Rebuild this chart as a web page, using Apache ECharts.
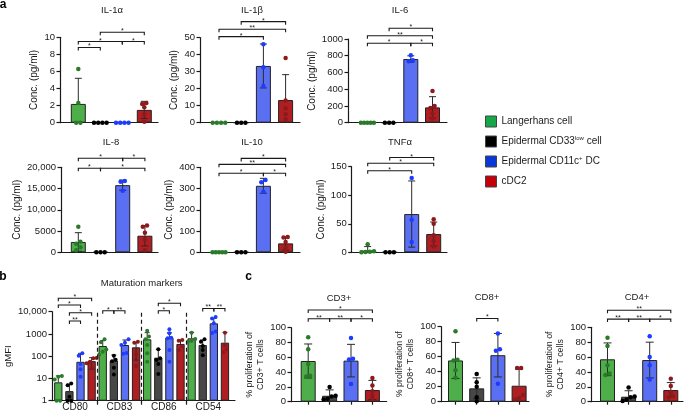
<!DOCTYPE html>
<html><head><meta charset="utf-8">
<script src="https://cdn.jsdelivr.net/npm/echarts@6/dist/echarts.min.js"></script>
<style>html,body{margin:0;padding:0;background:#fff}#c{width:685px;height:416px}</style>
</head><body><div id="c"></div>
<script>
// ---------------- DATA ----------------
const cellTypes = ['Langerhans cell', 'Epidermal CD33low cell', 'Epidermal CD11c+ DC', 'cDC2'];

// Panel a: cytokines (pg/ml)
const il1aMeans = [2.2, 0, 0, 1.5];
const il1aSD = [3.0, 0, 0, 1.0];
const il1aDots = [[6.3, 2.3, 0, 0], [0, 0, 0, 0], [0, 0, 0, 0], [2.3, 2.2, 1.8, 1.0, 0.1]];
const il1aTicks = [0, 2, 4, 6, 8, 10];
const il1aSig = [[0, 1, '*'], [0, 2, '*'], [2, 3, '*'], [1, 3, '*']];
const il1aSigY = [8.8, 9.5, 9.5, 10.6];

const il1bMeans = [0, 0, 33.3, 13.3];
const il1bSD = [0, 0, 12.9, 14.9];
const il1bDots = [[0, 0, 0, 0], [0, 0, 0], [46, 32.6, 21.5], [38, 13, 8.5, 5, 2]];
const il1bTicks = [0, 10, 20, 30, 40, 50];
const il1bSig = [[0, 2, '*'], [0, 3, '**'], [1, 3, '*']];
const il1bSigY = [50.5, 54.8, 59.3];

const il6Means = [0, 0, 761, 183];
const il6SD = [0, 0, 38, 128];
const il6Dots = [[0, 0, 0, 0, 0], [0, 0, 0], [805, 745, 735], [380, 200, 175, 110, 50]];
const il6Ticks = [0, 200, 400, 600, 800, 1000];
const il6Sig = [[0, 2, '*'], [2, 3, '*'], [0, 3, '**'], [1, 3, '*']];
const il6SigY = [949, 949, 1039, 1128];

const il8Means = [2430, 0, 15800, 3900];
const il8SD = [2190, 0, 1200, 2400];
const il8Dots = [[6000, 2500, 2000, 1200, 500], [0, 0, 0], [16800, 16600, 14500], [6300, 6000, 4600, 3000, 500]];
const il8Ticks = [0, 5000, 10000, 15000, 20000];
const il8TickLabels = ['0', '5000', '10,000', '15,000', '20,000'];
const il8Sig = [[0, 1, '*'], [1, 3, '*'], [0, 2, '*'], [2, 3, '*']];
const il8SigY = [19765, 19765, 22118, 22118];

const il10Means = [0, 0, 313, 42];
const il10SD = [0, 0, 35, 31];
const il10Dots = [[0, 0, 0, 0, 0], [0, 0, 0], [340, 330, 285], [72, 70, 48, 22, 3]];
const il10Ticks = [0, 100, 200, 300, 400];
const il10Sig = [[0, 2, '*'], [2, 3, '*'], [0, 3, '**'], [1, 3, '*']];
const il10SigY = [372, 372, 414, 442];

const tnfMeans = [3.0, 0, 67, 32];
const tnfSD = [7, 0, 58, 21];
const tnfDots = [[14, 2, 1, 0.5, 0], [0, 0, 0], [130, 57, 18], [58, 50, 30, 20, 10]];
const tnfTicks = [0, 50, 100, 150];
const tnfSig = [[0, 2, '*'], [0, 3, '*'], [1, 3, '*']];
const tnfSigY = [143, 156, 166];

// Panel b: maturation markers (gMFI, log)
const markers = ['CD80', 'CD83', 'CD86', 'CD54'];
const bMeansLC = [6.7, 288, 575, 636];
const bMeansCD33 = [2.7, 63, 86, 318];
const bMeansCD11c = [56, 318, 680, 3000];
const bMeansCDC2 = [60, 251, 355, 405];
const bErrHiLC = [13, 500, 1140, 1180];
const bErrHiCD33 = [5.5, 113, 204, 540];
const bErrHiCD11c = [135, 535, 1140, 5000];
const bErrHiCDC2 = [86, 405, 535, 1180];
const bErrLoCDC2 = [26, 67, null, null];
const bDotsCD80 = [[13, 12, 9, 1, 1], [6, 5, 1.5, 1, 1], [135, 105, 45, 26, 12], [82, 80, 57, 48, 30]];
const bDotsCD83 = [[580, 420, 200, 160, 115], [105, 70, 60, 30, 15], [575, 400, 320, 140, 130], [450, 400, 120, 36]];
const bDotsCD86 = [[1400, 760, 575, 318, 135, 57], [204, 80, 67, 45, 16], [1620, 1070, 680, 636, 190, 57], [535, 500, 270, 190]];
const bDotsCD54 = [[1140, 600, 500, 450], [575, 450, 290, 190, 110], [5800, 5000, 3000, 1300, 1100], [1140, 300, 200, 150]];
const bTicks = [1, 10, 100, 1000, 10000];
const bTickLabels = ['1', '10', '100', '1000', '10,000'];
const bSig = [[0, 3, '*'], [0, 2, '*'], [1, 3, '*'], [1, 2, '**'], [4, 5, '*'], [5, 6, '**'], [9, 11, '*'], [9, 10, '*'], [13, 14, '**'], [14, 15, '**']];
const bSigY = [40000, 20000, 9000, 3800, 11000, 11000, 24000, 11000, 14000, 14000];

// Panel c: T cell proliferation (%)
const cd3Means = [55, 8, 55.5, 15.8];
const cd3SD = [23, 8, 22, 13];
const cd3Dots = [[87, 71, 51, 35, 34], [20, 8, 7, 4, 3], [86, 58, 57, 24], [32, 22, 14, 8, 4]];
const cd3Sig = [[0, 3, '*'], [0, 1, '**'], [1, 2, '**'], [2, 3, '*']];
const cd3SigY = [124, 112, 112, 112];

const cd8Means = [55, 17.8, 62, 21.3];
const cd8SD = [24, 14, 29, 22];
const cd8Dots = [[94, 56, 55, 42, 32], [37, 26, 20, 6, 0.5], [91, 70, 68, 24], [45, 45, 9, 5, 3]];
const cd8Sig = [[1, 2, '*']];
const cd8SigY = [111];

const cd4Means = [57, 6.7, 56, 15.7];
const cd4SD = [22, 8, 24, 10];
const cd4Dots = [[86, 75, 49, 38, 36], [19, 7, 6, 3, 1], [88, 60, 49, 30], [31, 21, 13, 8, 6]];
const cd4Sig = [[0, 3, '**'], [0, 1, '**'], [1, 2, '**'], [2, 3, '*']];
const cd4SigY = [123, 111, 111, 111];
const cTicks = [0, 20, 40, 60, 80, 100];

// ---------------- STYLE / LAYOUT ----------------
const FONT = '"Liberation Sans", Arial, Helvetica, sans-serif';
const INK = '#1a1a1a';
const barColors = ['#4dae4a', '#474747', '#5a6ff2', '#b01e22'];
const dotColors = ['#2a7a2a', '#000000', '#1d3cff', '#8c1a1c'];
const legendColors = ['#14a84b', '#000000', '#0a37d8', '#c4000b'];

const grids = [], xAxes = [], yAxes = [], series = [], graphics = [];

function tickFormatter(ticks, labels) {
  return v => {
    const i = ticks.findIndex(t => Math.abs(t - v) <= 1e-6 * Math.max(1, Math.abs(t)));
    return i < 0 ? '' : (labels ? labels[i] : String(ticks[i]));
  };
}

function spread(vals, x, isLog, yMin, yMax, stepU, capU) {
  const span = isLog ? Math.log10(yMax) - Math.log10(yMin) : yMax - yMin;
  const t = vals.map(v => (isLog ? Math.log10(v) - Math.log10(yMin) : v - yMin) / span);
  const idx = vals.map((v, i) => i).sort((a, b) => t[a] - t[b]);
  const clusters = [];
  let cur = [idx[0]];
  for (let j = 1; j < idx.length; j++) {
    if (t[idx[j]] - t[cur[cur.length - 1]] < 0.04) cur.push(idx[j]);
    else { clusters.push(cur); cur = [idx[j]]; }
  }
  clusters.push(cur);
  const out = [];
  clusters.forEach(c => {
    const n = c.length;
    const s = n > 1 ? Math.min(stepU, capU / (n - 1)) : 0;
    c.forEach((i, k) => out.push([x + (k - (n - 1) / 2) * s, vals[i]]));
  });
  return out;
}

function addChart(o) {
  const g = grids.length;
  const L = o.layout;
  grids.push({ left: L.left, top: L.top, width: L.right - L.left, height: L.bottom - L.top });
  const axisLine = { show: true, onZero: false, lineStyle: { color: INK, width: 1.2 } };
  xAxes.push({
    gridIndex: g, type: 'value', min: (L.left - L.c0) / L.step, max: (L.right - L.c0) / L.step,
    axisLine: axisLine, splitLine: { show: false },
    axisTick: o.xTickValues ? { show: true, customValues: o.xTickValues, length: o.xTickLen || 3, lineStyle: { color: INK, width: 1.2 } } : { show: false },
    axisLabel: o.xLabelValues ? { show: true, customValues: o.xLabelValues, formatter: o.xLabelFmt, fontSize: 10, color: INK, fontFamily: FONT, margin: 2 } : { show: false }
  });
  const yMin = o.ticks[0], yMax = o.ticks[o.ticks.length - 1];
  yAxes.push({
    gridIndex: g, type: o.isLog ? 'log' : 'value', logBase: 10, min: yMin, max: yMax,
    interval: o.isLog ? undefined : o.ticks[1] - o.ticks[0],
    axisLine: axisLine, splitLine: { show: false },
    axisTick: { show: true, length: 3.5, lineStyle: { color: INK, width: 1.2 } },
    axisLabel: { fontSize: 9.5, color: INK, fontFamily: FONT, margin: 5, formatter: tickFormatter(o.ticks, o.tickLabels) },
    name: o.yName, nameLocation: 'middle', nameGap: o.nameGap,
    nameTextStyle: { fontSize: o.nameSize || 10, color: INK, fontFamily: FONT, lineHeight: o.nameLH || 12 }
  });
  const n = o.means.length;
  // bars
  series.push({
    type: 'bar', xAxisIndex: g, yAxisIndex: g, barWidth: o.barWidth, z: 2, silent: true,
    data: o.means.map((m, i) => ({ value: [i, m], itemStyle: { color: barColors[o.colorIdx[i]], borderColor: '#222', borderWidth: 1 } })),
    markLine: o.separators ? {
      symbol: 'none', silent: true, label: { show: false },
      lineStyle: { type: [4, 3], color: INK, width: 1.2 },
      data: o.separators.map(v => ({ xAxis: v }))
    } : undefined
  });
  // error bars
  series.push({
    type: 'custom', xAxisIndex: g, yAxisIndex: g, z: 3, clip: false, silent: true,
    data: o.means.map((m, i) => [i, m]),
    renderItem: (params, api) => {
      const i = params.dataIndex;
      const x = api.value(0), m = api.value(1);
      const hi = o.hi[i], lo = o.lo[i];
      const st = { stroke: '#2b2b2b', lineWidth: 1 };
      const cw = o.capW / 2;
      const ch = [];
      const pm = api.coord([x, m]);
      if (hi != null && !isNaN(hi)) {
        const ph = api.coord([x, hi]);
        ch.push({ type: 'line', shape: { x1: pm[0], y1: pm[1], x2: ph[0], y2: ph[1] }, style: st });
        ch.push({ type: 'line', shape: { x1: ph[0] - cw, y1: ph[1], x2: ph[0] + cw, y2: ph[1] }, style: st });
      }
      if (lo != null && !isNaN(lo)) {
        const pl = api.coord([x, lo]);
        ch.push({ type: 'line', shape: { x1: pm[0], y1: pm[1], x2: pl[0], y2: pl[1] }, style: st });
        ch.push({ type: 'line', shape: { x1: pl[0] - cw, y1: pl[1], x2: pl[0] + cw, y2: pl[1] }, style: st });
      }
      return { type: 'group', children: ch };
    }
  });
  // dots, one scatter series per cell type
  for (let k = 0; k < 4; k++) {
    const pts = [];
    for (let i = 0; i < n; i++) {
      if (o.colorIdx[i] !== k) continue;
      spread(o.dots[i], i, o.isLog, yMin, yMax, o.dotStep, o.dotCap).forEach(p => pts.push(p));
    }
    series.push({
      type: 'scatter', name: cellTypes[k], xAxisIndex: g, yAxisIndex: g, z: 4, silent: true,
      symbolSize: o.dotSize, itemStyle: { color: dotColors[k], opacity: 1 }, data: pts
    });
  }
  // significance brackets
  series.push({
    type: 'custom', xAxisIndex: g, yAxisIndex: g, z: 3, clip: false, silent: true,
    data: o.sig.map((s, j) => [s[0], o.sigY[j]]),
    renderItem: (params, api) => {
      const s = o.sig[params.dataIndex];
      const y = api.value(1);
      const p1 = api.coord([s[0], y]), p2 = api.coord([s[1], y]);
      const t = 3;
      return {
        type: 'group', children: [
          { type: 'polyline', shape: { points: [[p1[0], p1[1] + t], [p1[0], p1[1]], [p2[0], p2[1]], [p2[0], p2[1] + t]] },
            style: { stroke: INK, lineWidth: 1.1, fill: null } },
          { type: 'text', x: (p1[0] + p2[0]) / 2, y: p1[1] + 2.5,
            style: { text: s[2], fill: INK, fontSize: 7, fontFamily: FONT, align: 'center', verticalAlign: 'bottom' } }
        ]
      };
    }
  });
  if (o.title) {
    graphics.push({ type: 'text', x: o.title[1], y: o.title[2],
      style: { text: o.title[0], fill: INK, fontSize: o.titleSize || 9.5, fontFamily: FONT, align: 'center', verticalAlign: 'middle' } });
  }
}

function panelA(title, tpos, layout, ticks, tickLabels, means, sd, dots, sig, sigY, nameGap) {
  const yMin = ticks[0];
  addChart({
    layout, ticks, tickLabels, means, dots, sig, sigY, nameGap,
    colorIdx: [0, 1, 2, 3],
    hi: means.map((m, i) => sd[i] > 0 ? m + sd[i] : null),
    lo: means.map((m, i) => sd[i] > 0 && m - sd[i] > yMin ? m - sd[i] : null),
    yName: 'Conc. (pg/ml)', barWidth: 15, dotSize: 4.5, capW: 7,
    dotStep: 4.2 / layout.step, dotCap: 13 / layout.step,
    title: [title, tpos[0], tpos[1]]
  });
}

panelA('IL-1α', [112, 10], { left: 60, right: 158, top: 37.3, bottom: 122.7, c0: 78.3, step: 22 }, il1aTicks, null, il1aMeans, il1aSD, il1aDots, il1aSig, il1aSigY, 9);
panelA('IL-1β', [252, 10], { left: 200, right: 300, top: 37.5, bottom: 122.7, c0: 219, step: 22.2 }, il1bTicks, null, il1bMeans, il1bSD, il1bDots, il1bSig, il1bSigY, 15);
panelA('IL-6', [400, 10], { left: 348, right: 447, top: 39, bottom: 122.7, c0: 367.4, step: 21.7 }, il6Ticks, null, il6Means, il6SD, il6Dots, il6Sig, il6SigY, 24);
panelA('IL-8', [111, 142.3], { left: 61, right: 158, top: 167.3, bottom: 252.3, c0: 78.3, step: 22.2 }, il8Ticks, il8TickLabels, il8Means, il8SD, il8Dots, il8Sig, il8SigY, 36);
panelA('IL-10', [252, 142.3], { left: 200, right: 300, top: 167.3, bottom: 252.3, c0: 219, step: 22.2 }, il10Ticks, null, il10Means, il10SD, il10Dots, il10Sig, il10SigY, 18);
panelA('TNFα', [400, 142.3], { left: 351.7, right: 447, top: 166.7, bottom: 252.3, c0: 367.7, step: 22 }, tnfTicks, null, tnfMeans, tnfSD, tnfDots, tnfSig, tnfSigY, 21);

// Panel b
(function () {
  const meansBy = [bMeansLC, bMeansCD33, bMeansCD11c, bMeansCDC2];
  const hiBy = [bErrHiLC, bErrHiCD33, bErrHiCD11c, bErrHiCDC2];
  const dotsBy = [bDotsCD80, bDotsCD83, bDotsCD86, bDotsCD54];
  const means = [], hi = [], lo = [], dots = [], colorIdx = [];
  for (let mk = 0; mk < markers.length; mk++) {
    for (let k = 0; k < 4; k++) {
      means.push(meansBy[k][mk]);
      hi.push(hiBy[k][mk]);
      lo.push(k === 3 ? bErrLoCDC2[mk] : null);
      dots.push(dotsBy[mk][k]);
      colorIdx.push(k);
    }
  }
  const layout = { left: 52, right: 235, top: 311.7, bottom: 400.7, c0: 58.3, step: 11.11 };
  addChart({
    layout, isLog: true, ticks: bTicks, tickLabels: bTickLabels, means, hi, lo, dots, colorIdx,
    sig: bSig, sigY: bSigY, yName: 'gMFI', nameGap: 37, nameSize: 9.5,
    barWidth: 8.3, dotSize: 4, capW: 5, dotStep: 3.6 / layout.step, dotCap: 10 / layout.step,
    separators: [3.5, 7.5, 11.5], xTickValues: [3.5, 7.5, 11.5], xTickLen: 4,
    xLabelValues: [1.5, 5.5, 9.5, 13.5], xLabelFmt: v => markers[Math.round((v - 1.5) / 4)] || '',
    title: ['Maturation markers', 141.7, 283.3], titleSize: 9.5
  });
})();

// Panel c
function panelC(title, tpos, layout, means, sd, dots, sig, sigY) {
  addChart({
    layout, ticks: cTicks, means, dots, sig, sigY,
    colorIdx: [0, 1, 2, 3],
    hi: means.map((m, i) => m + sd[i]),
    lo: means.map((m, i) => m - sd[i] > 0 ? m - sd[i] : null),
    yName: '% proliferation of\n' + title + ' T cells', nameGap: 25, nameSize: 8.8, nameLH: 11,
    barWidth: 15, dotSize: 4.5, capW: 8,
    dotStep: 4 / layout.step, dotCap: 13 / layout.step,
    xTickValues: [0, 1, 2, 3], xTickLen: 3,
    title: [title, tpos[0], tpos[1]]
  });
}
panelC('CD3+', [339, 298], { left: 291, right: 386.7, top: 327.7, bottom: 401.7, c0: 308.2, step: 21.4 }, cd3Means, cd3SD, cd3Dots, cd3Sig, cd3SigY);
panelC('CD8+', [487, 297], { left: 441, right: 529, top: 326.7, bottom: 401.7, c0: 455.5, step: 21.2 }, cd8Means, cd8SD, cd8Dots, cd8Sig, cd8SigY);
panelC('CD4+', [637, 297], { left: 591, right: 683, top: 327.3, bottom: 401.7, c0: 607.5, step: 21.1 }, cd4Means, cd4SD, cd4Dots, cd4Sig, cd4SigY);

// panel letters
[['a', 3, 4.5], ['b', 3, 277], ['c', 248.5, 277]].forEach(p => graphics.push({
  type: 'text', x: p[1], y: p[2],
  style: { text: p[0], fill: '#000', fontSize: 12, fontWeight: 'bold', fontFamily: FONT, align: 'center', verticalAlign: 'middle' }
}));

const chart = echarts.init(document.getElementById('c'), null, { renderer: 'canvas' });
chart.setOption({
  animation: false,
  backgroundColor: '#fff',
  grid: grids, xAxis: xAxes, yAxis: yAxes, series: series,
  graphic: graphics,
  legend: {
    orient: 'vertical', left: 480, top: 110.5, itemWidth: 11, itemHeight: 11, itemGap: 8, icon: 'rect',
    selectedMode: false,
    data: cellTypes.map((n, k) => ({ name: n, itemStyle: { color: legendColors[k], borderColor: '#444', borderWidth: 1 } })),
    formatter: n => n === cellTypes[1] ? 'Epidermal CD33{sup|low} cell' : (n === cellTypes[2] ? 'Epidermal CD11c{sup|+} DC' : n),
    textStyle: { fontSize: 10, color: INK, fontFamily: FONT, lineHeight: 12, rich: { sup: { fontSize: 6, verticalAlign: 'top', lineHeight: 12, fontFamily: FONT, color: INK } } }
  }
});
</script></body></html>
